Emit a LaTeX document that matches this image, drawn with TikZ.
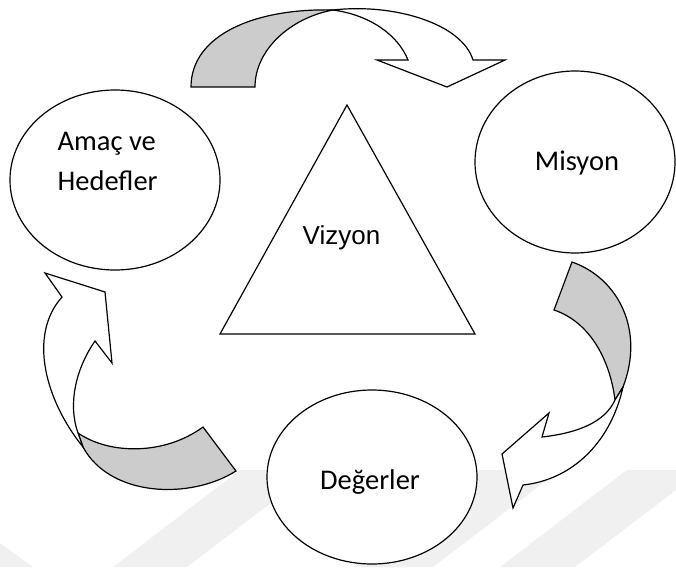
\documentclass[tikz,border=0pt]{standalone}
\usepackage{fontspec}
\setmainfont{Carlito}
\newfontfamily\vizfont{Liberation Sans}
\usetikzlibrary{shapes.geometric}
\begin{document}
\begin{tikzpicture}[x=1pt,y=-1pt,
  line width=1.2pt, line join=miter,
  oval/.style={ellipse, draw=black, fill=white, inner sep=0pt},
  lbl/.style={font=\fontsize{28.5}{34}\selectfont, inner sep=0pt},
  back/.style={draw=black, fill=gray!40},
  front/.style={draw=black, fill=white},
  wm/.style={fill=black!6, draw=none}]
\useasboundingbox (0,0) rectangle (676,567);
% faint watermark stripes
\fill[wm] (0,543) -- (33,567) -- (0,567) -- cycle;
\fill[wm] (113,567) -- (187,567) -- (314,470) -- (240,470) -- cycle;
\fill[wm] (353,567) -- (433,567) -- (560,470) -- (480,470) -- cycle;
\fill[wm] (500,567) -- (575,567) -- (676,490) -- (676,470) -- (627,470) -- cycle;
% ellipses
\node[oval, minimum width=210pt, minimum height=180pt] (amac) at (115,180) {};
\node[oval, minimum width=200pt, minimum height=182pt] (misyon) at (575,162) {};
\node[oval, minimum width=210pt, minimum height=174pt] (deger) at (372,477) {};
% triangle
\draw (347,105) -- (475,334) -- (220,334) -- cycle;
% labels
\node[lbl, anchor=base west] (amac1) at (57,150) {Amaç ve};
\node[lbl, anchor=base west] (amac2) at (57,190) {Hedefler};
\node[lbl, anchor=base] (mis) at (577,170) {Misyon};
\node[lbl, anchor=base, font=\vizfont\fontsize{26}{30}\selectfont] (viz) at (341.5,244) {Vizyon};
\node[lbl, anchor=base] (deg) at (370,489) {Değerler};
% top curved arrow
\draw[back] (191,87) .. controls (191,35) and (255,8) .. (333,10)
  .. controls (290,18) and (255,50) .. (255,87) -- cycle;
\draw[front] (333,10) .. controls (395,3) and (462,24) .. (473,60)
  -- (505,60) -- (447,87) -- (377,60) -- (408,60)
  .. controls (398,35) and (370,15) .. (333,10) -- cycle;
% right curved arrow
\draw[back] (572,262) -- (554,310) .. controls (590,322) and (610,360) .. (615,400)
  -- (623,387) .. controls (645,330) and (618,278) .. (572,262) -- cycle;
\draw[front] (623,387) .. controls (610,445) and (570,480) .. (523,485)
  -- (513,508) -- (502,454) -- (549,413) -- (542,437)
  .. controls (578,433) and (605,422) .. (615,400) -- cycle;
% left curved arrow
\draw[back] (203,427) -- (236,471) .. controls (190,500) and (110,497) .. (83,447)
  -- (78,433) .. controls (110,455) and (165,455) .. (203,427) -- cycle;
\draw[front] (83,447) .. controls (45,400) and (28,335) .. (62,297)
  -- (45,273) -- (105,292) -- (112,363) -- (95,341)
  .. controls (75,370) and (68,405) .. (78,433) -- cycle;
\end{tikzpicture}
\end{document}
